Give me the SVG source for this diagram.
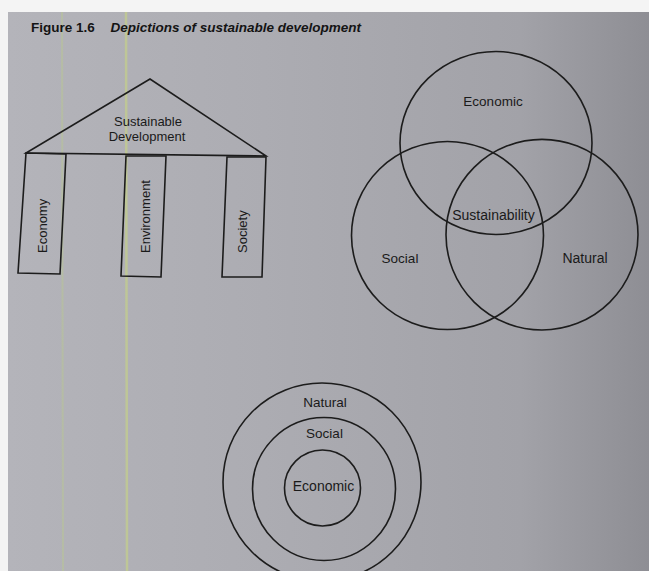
<svg xmlns="http://www.w3.org/2000/svg" width="649" height="571" viewBox="0 0 649 571">
<defs>
<linearGradient id="bg" x1="0" y1="0" x2="1" y2="0">
<stop offset="0" stop-color="#b4b4ba"/>
<stop offset="0.4" stop-color="#acacb2"/>
<stop offset="0.8" stop-color="#a2a2a8"/>
<stop offset="1" stop-color="#8e8e94"/>
</linearGradient>
<style>
.ln{fill:none;stroke:#1c1c1c;stroke-width:1.6}
.t{font-family:"Liberation Sans",Arial,sans-serif;font-size:13px;fill:#1a1a1a;text-anchor:middle}
.v{font-family:"Liberation Sans",Arial,sans-serif;font-size:13px;fill:#1a1a1a;text-anchor:start}
.title{font-family:"Liberation Sans",Arial,sans-serif;font-size:13.5px;font-weight:bold;fill:#141414}
</style>
</defs>
<rect x="0" y="0" width="649" height="571" fill="#f4f4f4"/>
<rect x="8" y="12" width="641" height="559" fill="url(#bg)"/>
<line x1="62" y1="12" x2="63" y2="571" stroke="#b8c49a" stroke-width="2" opacity="0.6"/>
<line x1="126" y1="12" x2="127" y2="571" stroke="#c4d08a" stroke-width="2.5" opacity="0.7"/>

<text class="title" x="31" y="32">Figure 1.6 <tspan font-style="italic" dx="12">Depictions of sustainable development</tspan></text>

<g id="temple">
<g id="roof">
<polygon class="ln" points="150,79 26,153 266,156"/>
<text class="t" x="148" y="126">Sustainable</text>
<text class="t" x="147" y="141">Development</text>
</g>
<g id="pillar-economy">
<polygon class="ln" points="26,153 66,154 60,274 18,273"/>
<text class="v" transform="translate(47,253) rotate(-90)">Economy</text>
</g>
<g id="pillar-environment">
<polygon class="ln" points="126,156 166,156 161,277 121,276"/>
<text class="v" transform="translate(150,253) rotate(-90)">Environment</text>
</g>
<g id="pillar-society">
<polygon class="ln" points="227,157 266,157 262,277 222,277"/>
<text class="v" transform="translate(247,253) rotate(-90)">Society</text>
</g>
</g>

<g id="venn">
<g id="venn-economic">
<ellipse class="ln" cx="496" cy="143" rx="96" ry="91.5"/>
<text class="t" x="493" y="106" style="font-size:13.5px">Economic</text>
</g>
<g id="venn-social">
<ellipse class="ln" cx="447.5" cy="235.5" rx="96" ry="94"/>
<text class="t" x="400" y="263" style="font-size:13.5px">Social</text>
</g>
<g id="venn-natural">
<ellipse class="ln" cx="542" cy="234.7" rx="96" ry="95.3"/>
<text class="t" x="585" y="263" style="font-size:14px">Natural</text>
</g>
<g id="venn-sustainability">
<text class="t" x="493.5" y="220" style="font-size:14px">Sustainability</text>
</g>
</g>

<g id="concentric">
<g id="ring-natural">
<circle class="ln" cx="322" cy="482" r="99"/>
<text class="t" x="325" y="407" style="font-size:13.5px">Natural</text>
</g>
<g id="ring-social">
<circle class="ln" cx="324" cy="489" r="71.5"/>
<text class="t" x="324.5" y="438" style="font-size:13.5px">Social</text>
</g>
<g id="ring-economic">
<circle class="ln" cx="322.5" cy="488" r="38"/>
<text class="t" x="323.5" y="491" style="font-size:14px">Economic</text>
</g>
</g>

<g id="connectors"></g>
</svg>
